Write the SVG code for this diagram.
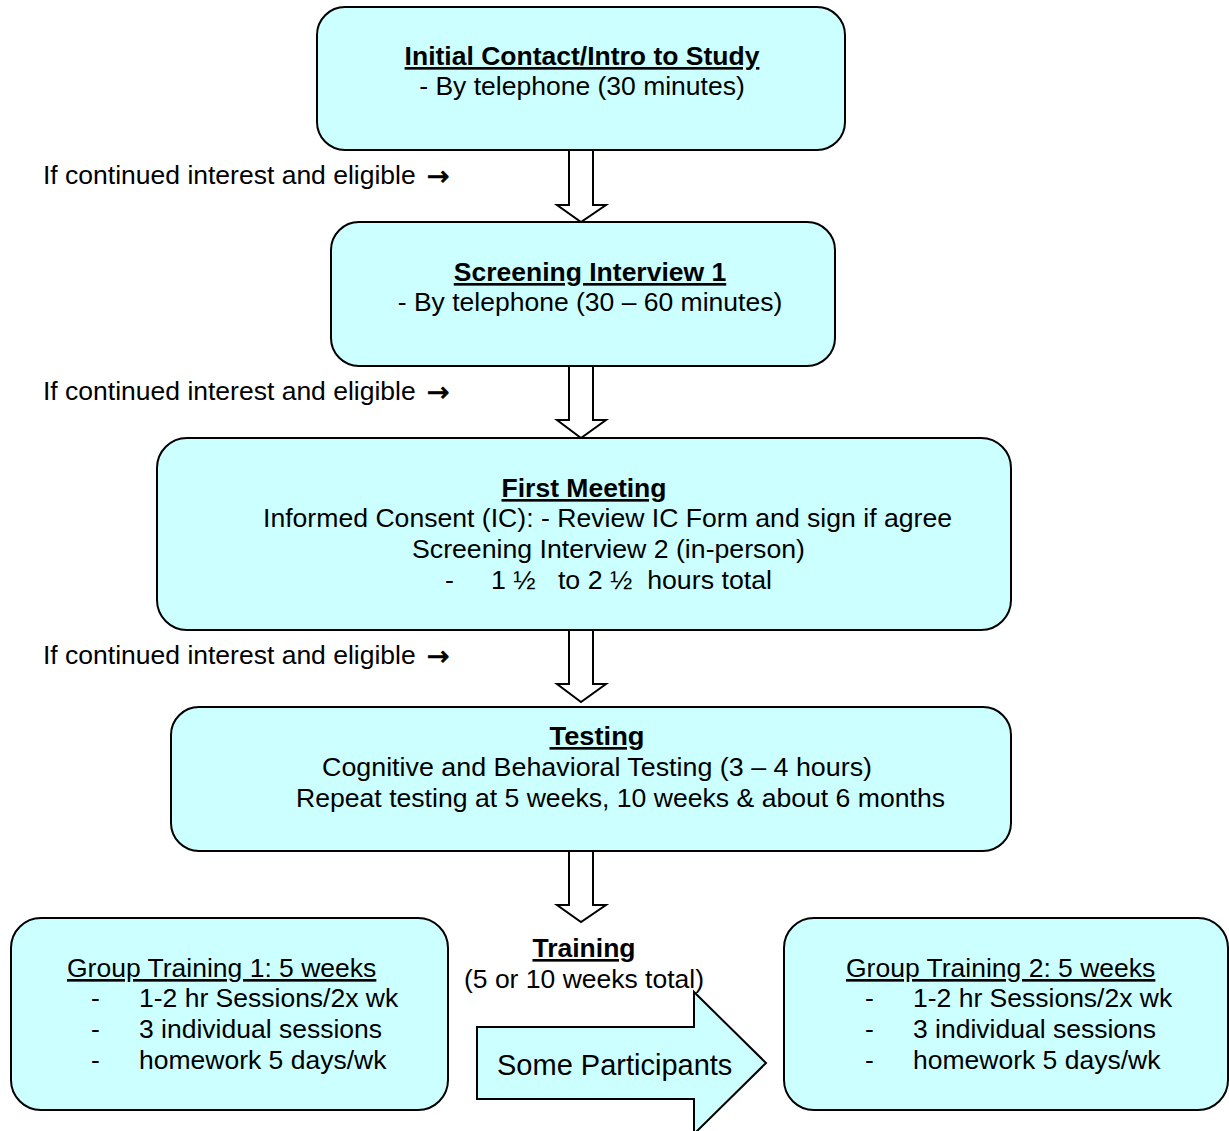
<svg xmlns="http://www.w3.org/2000/svg" width="1229" height="1131" viewBox="0 0 1229 1131">
<style>
  .box { fill: #CCFFFF; stroke: #000; stroke-width: 2; }
  .arr { fill: #fff; stroke: #000; stroke-width: 2; stroke-linejoin: miter; }
  text { font-family: "Liberation Sans", Arial, sans-serif; font-size: 26.5px; fill: #000; }
  .c { text-anchor: middle; }
  .b { font-weight: bold; text-decoration: underline; }
  .u { text-decoration: underline; }
  .sym { font-family: "DejaVu Sans", sans-serif; font-size: 27px; stroke: #000; stroke-width: 0.8; }
</style>
<rect width="1229" height="1131" fill="#fff"/>
<g id="connectors">
  <polygon class="arr" points="569,150 593,150 593,205 606,205 581,222 557,205 569,205"/>
  <polygon class="arr" points="569,366 593,366 593,420 606,420 581,438 557,420 569,420"/>
  <polygon class="arr" points="569,630 593,630 593,684 606,684 581,702 557,684 569,684"/>
  <polygon class="arr" points="569,851 593,851 593,905 606,905 581,922 557,905 569,905"/>
</g>
<g id="labels">
  <text x="43" y="184">If continued interest and eligible <tspan class="sym" x="427" y="185">→</tspan></text>
  <text x="43" y="400">If continued interest and eligible <tspan class="sym" x="427" y="401">→</tspan></text>
  <text x="43" y="664">If continued interest and eligible <tspan class="sym" x="427" y="665">→</tspan></text>
</g>
<g id="initial-contact">
  <rect class="box" x="317" y="7" width="528" height="143" rx="28"/>
  <text class="c b" x="582" y="65">Initial Contact/Intro to Study</text>
  <text class="c" x="582" y="95">- By telephone (30 minutes)</text>
</g>
<g id="screening-1">
  <rect class="box" x="331" y="222" width="504" height="144" rx="28"/>
  <text class="c b" x="590" y="281">Screening Interview 1</text>
  <text class="c" x="590" y="311">- By telephone (30 – 60 minutes)</text>
</g>
<g id="first-meeting">
  <rect class="box" x="157" y="438" width="854" height="192" rx="30"/>
  <text class="c b" x="584" y="497" textLength="165" lengthAdjust="spacingAndGlyphs">First Meeting</text>
  <text x="263" y="527" textLength="689" lengthAdjust="spacingAndGlyphs">Informed Consent (IC): - Review IC Form and sign if agree</text>
  <text x="412" y="558" textLength="393" lengthAdjust="spacingAndGlyphs">Screening Interview 2 (in-person)</text>
  <text x="445" y="589" xml:space="preserve" textLength="327" lengthAdjust="spacingAndGlyphs">-     1 ½   to 2 ½  hours total</text>
</g>
<g id="testing">
  <rect class="box" x="171" y="707" width="840" height="144" rx="28"/>
  <text class="c b" x="597" y="745" textLength="95" lengthAdjust="spacingAndGlyphs">Testing</text>
  <text x="322" y="776" textLength="550" lengthAdjust="spacingAndGlyphs">Cognitive and Behavioral Testing (3 – 4 hours)</text>
  <text x="296" y="807" textLength="649" lengthAdjust="spacingAndGlyphs">Repeat testing at 5 weeks, 10 weeks &amp; about 6 months</text>
</g>
<g id="training">
  <text class="c b" x="584" y="957">Training</text>
  <text class="c" x="584" y="988">(5 or 10 weeks total)</text>
</g>
<g id="some-participants">
  <polygon class="box" points="477,1027 694,1027 694,992 766,1063 694,1134 694,1099 477,1099"/>
  <text x="497" y="1075" style="font-size:29px">Some Participants</text>
</g>
<g id="group-training-1">
  <rect class="box" x="11" y="918" width="437" height="192" rx="30"/>
  <text class="u" x="67" y="977">Group Training 1: 5 weeks</text>
  <text x="91" y="1007">-</text><text x="139" y="1007">1-2 hr Sessions/2x wk</text>
  <text x="91" y="1038">-</text><text x="139" y="1038">3 individual sessions</text>
  <text x="91" y="1069">-</text><text x="139" y="1069">homework 5 days/wk</text>
</g>
<g id="group-training-2">
  <rect class="box" x="784" y="918" width="444" height="192" rx="30"/>
  <text class="u" x="846" y="977">Group Training 2: 5 weeks</text>
  <text x="865" y="1007">-</text><text x="913" y="1007">1-2 hr Sessions/2x wk</text>
  <text x="865" y="1038">-</text><text x="913" y="1038">3 individual sessions</text>
  <text x="865" y="1069">-</text><text x="913" y="1069">homework 5 days/wk</text>
</g>
</svg>
